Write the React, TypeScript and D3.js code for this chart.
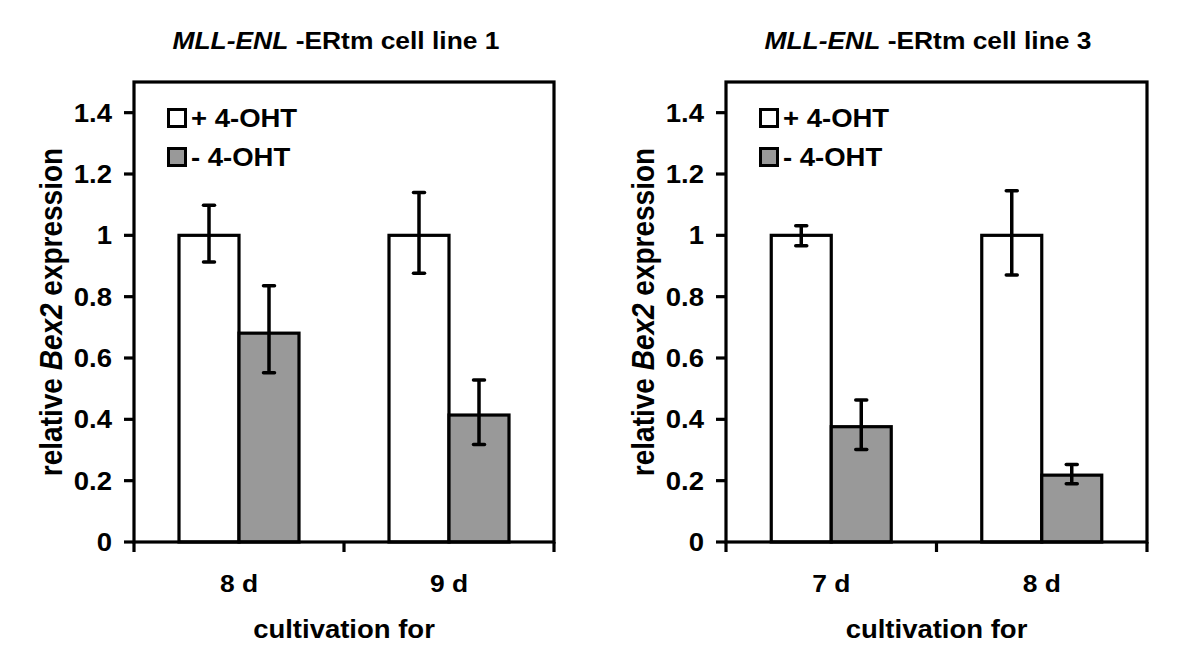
import React from "react";
import * as d3 from "d3";

// ---- data ----
const seriesNames = ["+ 4-OHT", "- 4-OHT"];
const yTickValues = [0, 0.2, 0.4, 0.6, 0.8, 1, 1.2, 1.4];

const line1Title = "-ERtm cell line 1";
const line1Categories = ["8 d", "9 d"];
const line1Plus = [1.0, 1.0];
const line1PlusLow = [0.913, 0.876];
const line1PlusHigh = [1.098, 1.14];
const line1Minus = [0.681, 0.414];
const line1MinusLow = [0.552, 0.318];
const line1MinusHigh = [0.836, 0.528];

const line3Title = "-ERtm cell line 3";
const line3Categories = ["7 d", "8 d"];
const line3Plus = [1.0, 1.0];
const line3PlusLow = [0.966, 0.871];
const line3PlusHigh = [1.031, 1.145];
const line3Minus = [0.376, 0.218];
const line3MinusLow = [0.302, 0.19];
const line3MinusHigh = [0.463, 0.253];

const FONT = "'Liberation Sans', Arial, Helvetica, sans-serif";
const SX = 1.1; // horizontal stretch of original image text
const GRAY = "#999999";

type PanelProps = {
  left: number;
  right: number;
  title: string;
  categories: string[];
  plus: number[];
  plusLow: number[];
  plusHigh: number[];
  minus: number[];
  minusLow: number[];
  minusHigh: number[];
};

const TOP = 82;
const BOTTOM = 542;

function Panel(p: PanelProps) {
  const y = d3.scaleLinear().domain([0, 1.5]).range([BOTTOM, TOP]);
  const x = d3.scaleBand<string>().domain(p.categories).range([p.left, p.right]).padding(0);
  const barW = 60;
  const inner = d3.scaleBand<string>().domain(seriesNames).range([0, barW * 2]).padding(0);
  const fills = [ "#ffffff", GRAY ];
  const vals = [p.plus, p.minus];
  const lows = [p.plusLow, p.minusLow];
  const highs = [p.plusHigh, p.minusHigh];
  const cx = (p.left + p.right) / 2;
  const cy = (TOP + BOTTOM) / 2;
  const xTickPositions = [p.left, ...p.categories.slice(1).map((c) => x(c)!), p.right];

  return (
    <g fontFamily={FONT} fontWeight="bold" fill="#000">
      {/* title */}
      <g transform={`translate(${p.left + 202},49) scale(${SX},1)`}>
        <text textAnchor="middle" fontSize={24}>
          <tspan fontStyle="italic">MLL-ENL</tspan>
          <tspan> {p.title}</tspan>
        </text>
      </g>

      {/* bars */}
      {p.categories.map((c, i) => {
        const gx = x(c)! + x.bandwidth() / 2 - barW;
        return seriesNames.map((s, j) => {
          const bx = gx + inner(s)!;
          const v = vals[j][i];
          const ex = bx + inner.bandwidth() / 2;
          return (
            <g key={c + s}>
              <rect x={bx} y={y(v)} width={inner.bandwidth()} height={y(0) - y(v)}
                fill={fills[j]} stroke="#000" strokeWidth={3.2} />
              <line x1={ex} x2={ex} y1={y(highs[j][i])} y2={y(lows[j][i])} stroke="#000" strokeWidth={3.5} />
              <line x1={ex - 5.5} x2={ex + 5.5} y1={y(highs[j][i])} y2={y(highs[j][i])} stroke="#000" strokeWidth={3.5} strokeLinecap="round" />
              <line x1={ex - 5.5} x2={ex + 5.5} y1={y(lows[j][i])} y2={y(lows[j][i])} stroke="#000" strokeWidth={3.5} strokeLinecap="round" />
            </g>
          );
        });
      })}

      {/* frame */}
      <rect x={p.left} y={TOP} width={p.right - p.left} height={BOTTOM - TOP} fill="none" stroke="#000" strokeWidth={3.2} />

      {/* y ticks */}
      {yTickValues.map((t) => (
        <g key={t}>
          <line x1={p.left - 10} x2={p.left} y1={y(t)} y2={y(t)} stroke="#000" strokeWidth={3.2} />
          <g transform={`translate(${p.left - 22},${y(t) + 9}) scale(${SX},1)`}>
            <text textAnchor="end" fontSize={25}>{String(t)}</text>
          </g>
        </g>
      ))}

      {/* x ticks */}
      {xTickPositions.map((px, i) => (
        <line key={i} x1={px} x2={px} y1={BOTTOM} y2={BOTTOM + 10} stroke="#000" strokeWidth={3.2} />
      ))}
      {p.categories.map((c) => (
        <g key={c} transform={`translate(${x(c)! + x.bandwidth() / 2},592) scale(${SX},1)`}>
          <text textAnchor="middle" fontSize={24}>{c}</text>
        </g>
      ))}

      {/* axis labels */}
      <g transform={`translate(${cx},638) scale(${SX},1)`}>
        <text textAnchor="middle" fontSize={25}>cultivation for</text>
      </g>
      <g transform={`translate(${p.left - 72},${cy}) scale(${SX},1) rotate(-90)`}>
        <text textAnchor="middle" fontSize={28}>
          <tspan>relative </tspan>
          <tspan fontStyle="italic">Bex2</tspan>
          <tspan> expression</tspan>
        </text>
      </g>

      {/* legend */}
      {seriesNames.map((s, j) => (
        <g key={s}>
          <rect x={p.left + 34.5} y={109.5 + j * 39} width={17} height={17} fill={fills[j]} stroke="#000" strokeWidth={3} />
          <g transform={`translate(${p.left + 57},${127 + j * 39}) scale(${SX},1)`}>
            <text fontSize={25}>{s}</text>
          </g>
        </g>
      ))}
    </g>
  );
}

export default function App() {
  return (
    <svg width={1200} height={669} style={{ position: "absolute", left: 0, top: 0, background: "#fff" }}>
      <rect width={1200} height={669} fill="#fff" />
      <Panel left={134} right={554} title={line1Title} categories={line1Categories}
        plus={line1Plus} plusLow={line1PlusLow} plusHigh={line1PlusHigh}
        minus={line1Minus} minusLow={line1MinusLow} minusHigh={line1MinusHigh} />
      <Panel left={726} right={1147} title={line3Title} categories={line3Categories}
        plus={line3Plus} plusLow={line3PlusLow} plusHigh={line3PlusHigh}
        minus={line3Minus} minusLow={line3MinusLow} minusHigh={line3MinusHigh} />
    </svg>
  );
}
